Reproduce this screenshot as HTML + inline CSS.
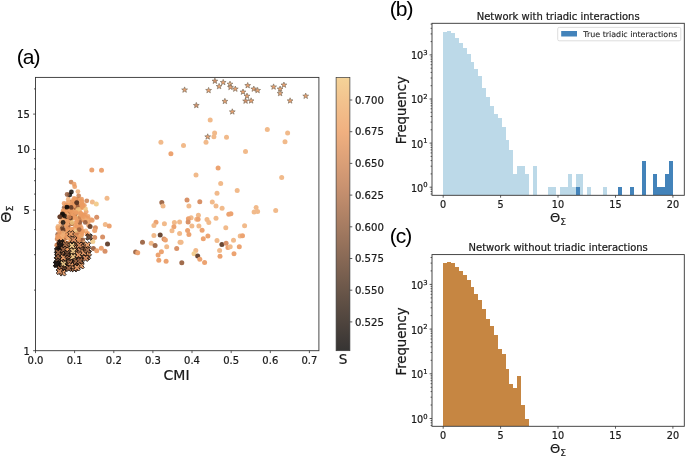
<!DOCTYPE html>
<html><head><meta charset="utf-8"><title>Figure</title>
<style>html,body{margin:0;padding:0;background:#fff}svg{display:block;will-change:transform}text{stroke:#1a1a1a;stroke-width:0.22px}</style></head>
<body>
<svg width="685" height="456" viewBox="0 0 685 456" font-family="'DejaVu Sans', 'Liberation Sans', sans-serif" fill="#1a1a1a">
<rect width="685" height="456" fill="#fff"/>
<g fill-opacity="0.85">
<circle cx="77.9" cy="237.1" r="2.4" fill="#eb9b62"/>
<circle cx="79.3" cy="199.3" r="2.4" fill="#f0ae76"/>
<circle cx="64.3" cy="214.5" r="2.4" fill="#eb9b62"/>
<circle cx="60.2" cy="237.0" r="2.4" fill="#efc27c"/>
<circle cx="74.5" cy="201.2" r="2.4" fill="#eb9b62"/>
<circle cx="71.7" cy="229.3" r="2.4" fill="#f0ae76"/>
<circle cx="76.7" cy="199.2" r="2.4" fill="#eb9b62"/>
<circle cx="78.7" cy="250.7" r="2.4" fill="#eb9b62"/>
<circle cx="82.1" cy="252.2" r="2.4" fill="#f0ae76"/>
<circle cx="73.9" cy="208.2" r="2.4" fill="#eb9b62"/>
<circle cx="74.0" cy="237.9" r="2.4" fill="#f0ae76"/>
<circle cx="81.9" cy="204.9" r="2.4" fill="#eb9b62"/>
<circle cx="64.4" cy="239.4" r="2.4" fill="#eb9b62"/>
<circle cx="81.7" cy="207.9" r="2.4" fill="#eb9b62"/>
<circle cx="62.1" cy="238.1" r="2.4" fill="#efc27c"/>
<circle cx="66.3" cy="252.4" r="2.4" fill="#efc27c"/>
<circle cx="88.5" cy="221.7" r="2.4" fill="#eb9b62"/>
<circle cx="85.8" cy="230.9" r="2.4" fill="#f0ae76"/>
<circle cx="65.5" cy="230.7" r="2.4" fill="#94593a"/>
<circle cx="64.7" cy="248.4" r="2.4" fill="#eb9b62"/>
<circle cx="74.9" cy="247.4" r="2.4" fill="#f0ae76"/>
<circle cx="67.3" cy="209.9" r="2.4" fill="#eb9b62"/>
<circle cx="66.6" cy="258.8" r="2.4" fill="#eb9b62"/>
<circle cx="75.0" cy="225.0" r="2.4" fill="#eb9b62"/>
<circle cx="81.6" cy="230.7" r="2.4" fill="#eb9b62"/>
<circle cx="80.4" cy="237.4" r="2.4" fill="#efc27c"/>
<circle cx="67.0" cy="212.0" r="2.4" fill="#eb9b62"/>
<circle cx="61.0" cy="239.2" r="2.4" fill="#eb9b62"/>
<circle cx="76.4" cy="210.2" r="2.4" fill="#eb9b62"/>
<circle cx="70.6" cy="205.9" r="2.4" fill="#eb9b62"/>
<circle cx="72.0" cy="201.8" r="2.4" fill="#c87c4c"/>
<circle cx="61.4" cy="233.6" r="2.4" fill="#94593a"/>
<circle cx="72.5" cy="217.9" r="2.4" fill="#eb9b62"/>
<circle cx="73.7" cy="210.7" r="2.4" fill="#eb9b62"/>
<circle cx="68.3" cy="202.1" r="2.4" fill="#eb9b62"/>
<circle cx="72.2" cy="218.1" r="2.4" fill="#eb9b62"/>
<circle cx="60.0" cy="238.0" r="2.4" fill="#eb9b62"/>
<circle cx="68.0" cy="248.0" r="2.4" fill="#c87c4c"/>
<circle cx="80.0" cy="200.6" r="2.4" fill="#f0ae76"/>
<circle cx="62.6" cy="214.4" r="2.4" fill="#140e0b"/>
<circle cx="71.9" cy="249.7" r="2.4" fill="#94593a"/>
<circle cx="67.7" cy="219.1" r="2.4" fill="#f0ae76"/>
<circle cx="74.4" cy="203.7" r="2.4" fill="#c87c4c"/>
<circle cx="65.8" cy="254.3" r="2.4" fill="#c87c4c"/>
<circle cx="80.2" cy="225.5" r="2.4" fill="#eb9b62"/>
<circle cx="86.4" cy="246.4" r="2.4" fill="#eb9b62"/>
<circle cx="60.9" cy="245.2" r="2.4" fill="#eb9b62"/>
<circle cx="81.9" cy="206.7" r="2.4" fill="#eb9b62"/>
<circle cx="71.3" cy="256.3" r="2.4" fill="#c87c4c"/>
<circle cx="65.5" cy="245.3" r="2.4" fill="#f0ae76"/>
<circle cx="78.6" cy="201.0" r="2.4" fill="#eb9b62"/>
<circle cx="79.2" cy="222.3" r="2.4" fill="#eb9b62"/>
<circle cx="61.8" cy="259.6" r="2.4" fill="#c87c4c"/>
<circle cx="77.7" cy="204.6" r="2.4" fill="#eb9b62"/>
<circle cx="57.5" cy="244.8" r="2.4" fill="#c87c4c"/>
<circle cx="81.3" cy="227.9" r="2.4" fill="#eb9b62"/>
<circle cx="77.3" cy="202.5" r="2.4" fill="#f0ae76"/>
<circle cx="62.7" cy="212.9" r="2.4" fill="#eb9b62"/>
<circle cx="67.3" cy="228.5" r="2.4" fill="#f0ae76"/>
<circle cx="70.1" cy="230.5" r="2.4" fill="#eb9b62"/>
<circle cx="71.5" cy="209.9" r="2.4" fill="#94593a"/>
<circle cx="78.9" cy="258.2" r="2.4" fill="#efc27c"/>
<circle cx="87.5" cy="218.2" r="2.4" fill="#eb9b62"/>
<circle cx="65.3" cy="245.4" r="2.4" fill="#eb9b62"/>
<circle cx="65.2" cy="243.9" r="2.4" fill="#eb9b62"/>
<circle cx="63.1" cy="235.4" r="2.4" fill="#eb9b62"/>
<circle cx="65.3" cy="248.0" r="2.4" fill="#eb9b62"/>
<circle cx="88.6" cy="225.4" r="2.4" fill="#eb9b62"/>
<circle cx="77.2" cy="211.8" r="2.4" fill="#efc27c"/>
<circle cx="72.8" cy="257.5" r="2.4" fill="#eb9b62"/>
<circle cx="82.3" cy="204.2" r="2.4" fill="#eb9b62"/>
<circle cx="66.3" cy="237.5" r="2.4" fill="#94593a"/>
<circle cx="72.6" cy="252.6" r="2.4" fill="#eb9b62"/>
<circle cx="68.5" cy="248.2" r="2.4" fill="#eb9b62"/>
<circle cx="71.9" cy="223.8" r="2.4" fill="#eb9b62"/>
<circle cx="74.8" cy="245.1" r="2.4" fill="#eb9b62"/>
<circle cx="60.4" cy="246.9" r="2.4" fill="#eb9b62"/>
<circle cx="62.2" cy="233.0" r="2.4" fill="#94593a"/>
<circle cx="72.3" cy="216.9" r="2.4" fill="#f0ae76"/>
<circle cx="66.9" cy="234.5" r="2.4" fill="#eb9b62"/>
<circle cx="67.4" cy="229.1" r="2.4" fill="#eb9b62"/>
<circle cx="62.1" cy="249.5" r="2.4" fill="#f0ae76"/>
<circle cx="67.0" cy="232.3" r="2.4" fill="#efc27c"/>
<circle cx="79.4" cy="243.7" r="2.4" fill="#94593a"/>
<circle cx="69.2" cy="238.2" r="2.4" fill="#eb9b62"/>
<circle cx="78.6" cy="237.5" r="2.4" fill="#583422"/>
<circle cx="73.9" cy="203.1" r="2.4" fill="#c87c4c"/>
<circle cx="77.4" cy="218.6" r="2.4" fill="#eb9b62"/>
<circle cx="67.5" cy="245.8" r="2.4" fill="#eb9b62"/>
<circle cx="64.2" cy="207.6" r="2.4" fill="#94593a"/>
<circle cx="64.3" cy="257.7" r="2.4" fill="#efc27c"/>
<circle cx="77.0" cy="226.9" r="2.4" fill="#eb9b62"/>
<circle cx="70.8" cy="223.8" r="2.4" fill="#eb9b62"/>
<circle cx="82.9" cy="239.8" r="2.4" fill="#94593a"/>
<circle cx="63.9" cy="257.2" r="2.4" fill="#eb9b62"/>
<circle cx="59.5" cy="254.8" r="2.4" fill="#eb9b62"/>
<circle cx="75.5" cy="257.1" r="2.4" fill="#eb9b62"/>
<circle cx="71.0" cy="241.3" r="2.4" fill="#c87c4c"/>
<circle cx="72.7" cy="207.1" r="2.4" fill="#f0ae76"/>
<circle cx="59.2" cy="253.8" r="2.4" fill="#eb9b62"/>
<circle cx="75.3" cy="214.0" r="2.4" fill="#583422"/>
<circle cx="69.0" cy="256.3" r="2.4" fill="#c87c4c"/>
<circle cx="65.5" cy="230.5" r="2.4" fill="#f0ae76"/>
<circle cx="73.7" cy="245.6" r="2.4" fill="#eb9b62"/>
<circle cx="66.3" cy="216.9" r="2.4" fill="#eb9b62"/>
<circle cx="63.2" cy="241.6" r="2.4" fill="#94593a"/>
<circle cx="81.6" cy="243.6" r="2.4" fill="#f0ae76"/>
<circle cx="69.8" cy="217.6" r="2.4" fill="#c87c4c"/>
<circle cx="68.2" cy="227.4" r="2.4" fill="#eb9b62"/>
<circle cx="66.0" cy="229.9" r="2.4" fill="#eb9b62"/>
<circle cx="72.3" cy="203.1" r="2.4" fill="#eb9b62"/>
<circle cx="70.0" cy="221.5" r="2.4" fill="#eb9b62"/>
<circle cx="62.6" cy="226.6" r="2.4" fill="#583422"/>
<circle cx="75.7" cy="204.0" r="2.4" fill="#f0ae76"/>
<circle cx="71.6" cy="233.8" r="2.4" fill="#94593a"/>
<circle cx="57.7" cy="234.5" r="2.4" fill="#94593a"/>
<circle cx="61.5" cy="243.8" r="2.4" fill="#eb9b62"/>
<circle cx="78.5" cy="233.1" r="2.4" fill="#94593a"/>
<circle cx="74.6" cy="209.6" r="2.4" fill="#94593a"/>
<circle cx="75.6" cy="227.6" r="2.4" fill="#eb9b62"/>
<circle cx="70.1" cy="244.5" r="2.4" fill="#eb9b62"/>
<circle cx="70.1" cy="206.1" r="2.4" fill="#eb9b62"/>
<circle cx="65.2" cy="208.9" r="2.4" fill="#94593a"/>
<circle cx="67.9" cy="216.4" r="2.4" fill="#f0ae76"/>
<circle cx="66.8" cy="234.8" r="2.4" fill="#583422"/>
<circle cx="72.5" cy="223.7" r="2.4" fill="#f0ae76"/>
<circle cx="64.9" cy="243.9" r="2.4" fill="#eb9b62"/>
<circle cx="77.4" cy="207.9" r="2.4" fill="#eb9b62"/>
<circle cx="82.1" cy="206.9" r="2.4" fill="#eb9b62"/>
<circle cx="81.5" cy="201.0" r="2.4" fill="#eb9b62"/>
<circle cx="87.6" cy="233.4" r="2.4" fill="#eb9b62"/>
<circle cx="66.2" cy="224.1" r="2.4" fill="#eb9b62"/>
<circle cx="59.9" cy="256.5" r="2.4" fill="#f0ae76"/>
<circle cx="56.7" cy="245.2" r="2.4" fill="#c87c4c"/>
<circle cx="72.1" cy="202.7" r="2.4" fill="#94593a"/>
<circle cx="70.4" cy="213.3" r="2.4" fill="#f0ae76"/>
<circle cx="60.8" cy="237.8" r="2.4" fill="#f0ae76"/>
<circle cx="68.2" cy="237.8" r="2.4" fill="#f0ae76"/>
<circle cx="65.5" cy="236.2" r="2.4" fill="#eb9b62"/>
<circle cx="78.5" cy="211.3" r="2.4" fill="#eb9b62"/>
<circle cx="64.5" cy="259.4" r="2.4" fill="#eb9b62"/>
<circle cx="82.2" cy="219.5" r="2.4" fill="#c87c4c"/>
<circle cx="66.9" cy="211.4" r="2.4" fill="#eb9b62"/>
<circle cx="71.1" cy="211.5" r="2.4" fill="#c87c4c"/>
<circle cx="69.8" cy="218.4" r="2.4" fill="#eb9b62"/>
<circle cx="80.5" cy="205.1" r="2.4" fill="#c87c4c"/>
<circle cx="62.1" cy="247.6" r="2.4" fill="#583422"/>
<circle cx="72.9" cy="234.6" r="2.4" fill="#efc27c"/>
<circle cx="58.3" cy="253.3" r="2.4" fill="#eb9b62"/>
<circle cx="68.0" cy="226.6" r="2.4" fill="#94593a"/>
<circle cx="65.1" cy="251.8" r="2.4" fill="#eb9b62"/>
<circle cx="72.5" cy="211.2" r="2.4" fill="#f0ae76"/>
<circle cx="74.5" cy="216.1" r="2.4" fill="#eb9b62"/>
<circle cx="74.2" cy="234.3" r="2.4" fill="#eb9b62"/>
<circle cx="74.0" cy="256.9" r="2.4" fill="#eb9b62"/>
<circle cx="86.2" cy="211.8" r="2.4" fill="#eb9b62"/>
<circle cx="61.4" cy="258.5" r="2.4" fill="#efc27c"/>
<circle cx="68.4" cy="214.4" r="2.4" fill="#f0ae76"/>
<circle cx="71.3" cy="239.1" r="2.4" fill="#eb9b62"/>
<circle cx="62.9" cy="251.4" r="2.4" fill="#f0ae76"/>
<circle cx="59.6" cy="235.8" r="2.4" fill="#f0ae76"/>
<circle cx="70.9" cy="220.4" r="2.4" fill="#eb9b62"/>
<circle cx="76.1" cy="257.7" r="2.4" fill="#eb9b62"/>
<circle cx="63.4" cy="211.4" r="2.4" fill="#eb9b62"/>
<circle cx="69.4" cy="216.7" r="2.4" fill="#94593a"/>
<circle cx="68.3" cy="215.1" r="2.4" fill="#eb9b62"/>
<circle cx="77.5" cy="211.5" r="2.4" fill="#eb9b62"/>
<circle cx="80.7" cy="214.0" r="2.4" fill="#eb9b62"/>
<circle cx="66.3" cy="252.5" r="2.4" fill="#efc27c"/>
<circle cx="65.9" cy="217.4" r="2.4" fill="#140e0b"/>
<circle cx="57.8" cy="227.8" r="2.4" fill="#eb9b62"/>
<circle cx="72.3" cy="233.3" r="2.4" fill="#eb9b62"/>
<circle cx="69.1" cy="222.8" r="2.4" fill="#eb9b62"/>
<circle cx="83.6" cy="214.7" r="2.4" fill="#eb9b62"/>
<circle cx="70.7" cy="209.7" r="2.4" fill="#eb9b62"/>
<circle cx="60.9" cy="227.4" r="2.4" fill="#f0ae76"/>
<circle cx="77.5" cy="256.1" r="2.4" fill="#c87c4c"/>
<circle cx="72.7" cy="229.3" r="2.4" fill="#f0ae76"/>
<circle cx="80.6" cy="235.7" r="2.4" fill="#efc27c"/>
<circle cx="87.1" cy="221.7" r="2.4" fill="#f0ae76"/>
<circle cx="64.3" cy="246.5" r="2.4" fill="#eb9b62"/>
<circle cx="78.6" cy="226.4" r="2.4" fill="#eb9b62"/>
<circle cx="57.9" cy="251.3" r="2.4" fill="#eb9b62"/>
<circle cx="78.1" cy="204.9" r="2.4" fill="#efc27c"/>
<circle cx="76.6" cy="242.6" r="2.4" fill="#eb9b62"/>
<circle cx="63.9" cy="255.8" r="2.4" fill="#eb9b62"/>
<circle cx="65.0" cy="230.2" r="2.4" fill="#eb9b62"/>
<circle cx="65.3" cy="252.7" r="2.4" fill="#eb9b62"/>
<circle cx="67.2" cy="234.8" r="2.4" fill="#eb9b62"/>
<circle cx="78.3" cy="242.1" r="2.4" fill="#f0ae76"/>
<circle cx="65.9" cy="206.8" r="2.4" fill="#eb9b62"/>
<circle cx="81.1" cy="204.3" r="2.4" fill="#f0ae76"/>
<circle cx="78.2" cy="206.8" r="2.4" fill="#eb9b62"/>
<circle cx="77.1" cy="254.8" r="2.4" fill="#eb9b62"/>
<circle cx="75.2" cy="204.3" r="2.4" fill="#eb9b62"/>
<circle cx="78.5" cy="218.5" r="2.4" fill="#eb9b62"/>
<circle cx="79.3" cy="216.9" r="2.4" fill="#efc27c"/>
<circle cx="60.8" cy="222.6" r="2.4" fill="#eb9b62"/>
<circle cx="67.2" cy="258.0" r="2.4" fill="#c87c4c"/>
<circle cx="63.2" cy="243.4" r="2.4" fill="#eb9b62"/>
<circle cx="67.1" cy="256.8" r="2.4" fill="#f0ae76"/>
<circle cx="78.2" cy="206.7" r="2.4" fill="#eb9b62"/>
<circle cx="60.3" cy="240.0" r="2.4" fill="#eb9b62"/>
<circle cx="57.1" cy="239.1" r="2.4" fill="#c87c4c"/>
<circle cx="82.7" cy="231.5" r="2.4" fill="#eb9b62"/>
<circle cx="69.7" cy="242.8" r="2.4" fill="#eb9b62"/>
<circle cx="67.4" cy="258.3" r="2.4" fill="#eb9b62"/>
<circle cx="77.4" cy="236.5" r="2.4" fill="#eb9b62"/>
<circle cx="66.5" cy="224.2" r="2.4" fill="#f0ae76"/>
<circle cx="83.2" cy="250.1" r="2.4" fill="#f0ae76"/>
<circle cx="81.9" cy="232.8" r="2.4" fill="#eb9b62"/>
<circle cx="60.5" cy="239.6" r="2.4" fill="#eb9b62"/>
<circle cx="67.6" cy="215.1" r="2.4" fill="#eb9b62"/>
<circle cx="61.5" cy="248.3" r="2.4" fill="#eb9b62"/>
<circle cx="87.0" cy="234.1" r="2.4" fill="#eb9b62"/>
<circle cx="60.0" cy="244.5" r="2.4" fill="#eb9b62"/>
<circle cx="64.8" cy="253.2" r="2.4" fill="#f0ae76"/>
<circle cx="63.0" cy="218.6" r="2.4" fill="#eb9b62"/>
<circle cx="70.8" cy="222.4" r="2.4" fill="#eb9b62"/>
<circle cx="73.3" cy="200.1" r="2.4" fill="#f0ae76"/>
<circle cx="81.7" cy="205.4" r="2.4" fill="#f0ae76"/>
<circle cx="72.2" cy="229.2" r="2.4" fill="#eb9b62"/>
<circle cx="66.0" cy="221.1" r="2.4" fill="#f0ae76"/>
<circle cx="61.2" cy="249.1" r="2.4" fill="#eb9b62"/>
<circle cx="57.7" cy="236.3" r="2.4" fill="#eb9b62"/>
<circle cx="73.7" cy="255.5" r="2.4" fill="#eb9b62"/>
<circle cx="58.3" cy="247.7" r="2.4" fill="#c87c4c"/>
<circle cx="71.8" cy="223.6" r="2.4" fill="#94593a"/>
<circle cx="84.2" cy="247.8" r="2.4" fill="#c87c4c"/>
<circle cx="57.8" cy="249.2" r="2.4" fill="#eb9b62"/>
<circle cx="90.9" cy="219.6" r="2.4" fill="#eb9b62"/>
<circle cx="58.0" cy="251.0" r="2.4" fill="#eb9b62"/>
<circle cx="81.5" cy="204.6" r="2.4" fill="#eb9b62"/>
<circle cx="63.3" cy="230.0" r="2.4" fill="#583422"/>
<circle cx="80.0" cy="217.6" r="2.4" fill="#c87c4c"/>
<circle cx="66.0" cy="257.9" r="2.4" fill="#c87c4c"/>
<circle cx="84.3" cy="205.3" r="2.4" fill="#eb9b62"/>
<circle cx="64.2" cy="243.0" r="2.4" fill="#eb9b62"/>
<circle cx="71.4" cy="219.6" r="2.4" fill="#efc27c"/>
<circle cx="79.8" cy="242.6" r="2.4" fill="#eb9b62"/>
<circle cx="81.2" cy="240.2" r="2.4" fill="#94593a"/>
<circle cx="66.1" cy="205.2" r="2.4" fill="#eb9b62"/>
<circle cx="78.4" cy="241.6" r="2.4" fill="#eb9b62"/>
<circle cx="64.9" cy="246.0" r="2.4" fill="#eb9b62"/>
<circle cx="63.0" cy="243.2" r="2.4" fill="#eb9b62"/>
<circle cx="66.3" cy="259.6" r="2.4" fill="#eb9b62"/>
<circle cx="62.6" cy="235.3" r="2.4" fill="#f0ae76"/>
<circle cx="77.7" cy="210.6" r="2.4" fill="#eb9b62"/>
<circle cx="69.8" cy="203.2" r="2.4" fill="#f0ae76"/>
<circle cx="58.8" cy="237.9" r="2.4" fill="#eb9b62"/>
<circle cx="58.7" cy="242.8" r="2.4" fill="#94593a"/>
<circle cx="69.9" cy="211.2" r="2.4" fill="#583422"/>
<circle cx="70.2" cy="205.3" r="2.4" fill="#eb9b62"/>
<circle cx="79.7" cy="212.5" r="2.4" fill="#eb9b62"/>
<circle cx="71.1" cy="217.2" r="2.4" fill="#eb9b62"/>
<circle cx="63.6" cy="250.4" r="2.4" fill="#eb9b62"/>
<circle cx="65.4" cy="249.7" r="2.4" fill="#eb9b62"/>
<circle cx="68.4" cy="256.4" r="2.4" fill="#f0ae76"/>
<circle cx="68.3" cy="199.2" r="2.4" fill="#f0ae76"/>
<circle cx="67.2" cy="243.2" r="2.4" fill="#eb9b62"/>
<circle cx="76.3" cy="233.1" r="2.4" fill="#c87c4c"/>
<circle cx="75.6" cy="212.2" r="2.4" fill="#f0ae76"/>
<circle cx="79.8" cy="222.4" r="2.4" fill="#94593a"/>
<circle cx="66.9" cy="247.5" r="2.4" fill="#eb9b62"/>
<circle cx="63.1" cy="248.5" r="2.4" fill="#583422"/>
<circle cx="61.9" cy="214.7" r="2.4" fill="#eb9b62"/>
<circle cx="76.0" cy="246.3" r="2.4" fill="#94593a"/>
<circle cx="83.3" cy="215.3" r="2.4" fill="#eb9b62"/>
<circle cx="79.5" cy="231.4" r="2.4" fill="#eb9b62"/>
<circle cx="71.0" cy="234.2" r="2.4" fill="#94593a"/>
<circle cx="85.1" cy="215.2" r="2.4" fill="#eb9b62"/>
<circle cx="79.6" cy="211.3" r="2.4" fill="#f0ae76"/>
<circle cx="77.8" cy="202.3" r="2.4" fill="#f0ae76"/>
<circle cx="70.4" cy="209.2" r="2.4" fill="#94593a"/>
<circle cx="76.2" cy="230.4" r="2.4" fill="#efc27c"/>
<circle cx="67.0" cy="215.4" r="2.4" fill="#f0ae76"/>
<circle cx="76.9" cy="238.6" r="2.4" fill="#c87c4c"/>
<circle cx="69.4" cy="252.8" r="2.4" fill="#c87c4c"/>
<circle cx="82.0" cy="234.8" r="2.4" fill="#eb9b62"/>
<circle cx="61.6" cy="228.7" r="2.4" fill="#583422"/>
<circle cx="79.9" cy="214.1" r="2.4" fill="#f0ae76"/>
<circle cx="64.4" cy="213.6" r="2.4" fill="#eb9b62"/>
<circle cx="66.0" cy="225.2" r="2.4" fill="#eb9b62"/>
<circle cx="71.1" cy="235.0" r="2.4" fill="#c87c4c"/>
<circle cx="74.6" cy="253.3" r="2.4" fill="#eb9b62"/>
<circle cx="58.3" cy="249.5" r="2.4" fill="#eb9b62"/>
<circle cx="75.4" cy="199.5" r="2.4" fill="#c87c4c"/>
<circle cx="68.7" cy="253.9" r="2.4" fill="#f0ae76"/>
<circle cx="67.7" cy="250.7" r="2.4" fill="#eb9b62"/>
<circle cx="84.2" cy="220.2" r="2.4" fill="#eb9b62"/>
<circle cx="83.3" cy="217.8" r="2.4" fill="#f0ae76"/>
<circle cx="63.2" cy="259.4" r="2.4" fill="#f0ae76"/>
<circle cx="83.0" cy="249.1" r="2.4" fill="#eb9b62"/>
<circle cx="62.8" cy="232.9" r="2.4" fill="#f0ae76"/>
<circle cx="70.0" cy="209.7" r="2.4" fill="#eb9b62"/>
<circle cx="72.8" cy="216.1" r="2.4" fill="#eb9b62"/>
<circle cx="62.6" cy="217.2" r="2.4" fill="#eb9b62"/>
<circle cx="78.7" cy="258.5" r="2.4" fill="#eb9b62"/>
<circle cx="83.2" cy="242.9" r="2.4" fill="#f0ae76"/>
<circle cx="71.8" cy="249.8" r="2.4" fill="#eb9b62"/>
<circle cx="61.5" cy="220.8" r="2.4" fill="#f0ae76"/>
<circle cx="64.3" cy="244.7" r="2.4" fill="#eb9b62"/>
<circle cx="81.2" cy="205.8" r="2.4" fill="#eb9b62"/>
<circle cx="79.7" cy="206.7" r="2.4" fill="#eb9b62"/>
<circle cx="72.8" cy="202.0" r="2.4" fill="#eb9b62"/>
<circle cx="63.2" cy="252.3" r="2.4" fill="#94593a"/>
<circle cx="87.3" cy="219.2" r="2.4" fill="#f0ae76"/>
<circle cx="67.5" cy="221.0" r="2.4" fill="#eb9b62"/>
<circle cx="64.0" cy="253.7" r="2.4" fill="#eb9b62"/>
<circle cx="58.2" cy="229.4" r="2.4" fill="#eb9b62"/>
<circle cx="74.9" cy="204.4" r="2.4" fill="#eb9b62"/>
<circle cx="75.9" cy="222.7" r="2.4" fill="#eb9b62"/>
<circle cx="76.2" cy="255.4" r="2.4" fill="#f0ae76"/>
<circle cx="78.1" cy="227.5" r="2.4" fill="#eb9b62"/>
<circle cx="81.9" cy="215.5" r="2.4" fill="#eb9b62"/>
<circle cx="62.1" cy="252.7" r="2.4" fill="#f0ae76"/>
<circle cx="73.7" cy="246.3" r="2.4" fill="#c87c4c"/>
<circle cx="59.5" cy="245.6" r="2.4" fill="#eb9b62"/>
<circle cx="68.7" cy="244.2" r="2.4" fill="#eb9b62"/>
<circle cx="79.2" cy="229.6" r="2.4" fill="#94593a"/>
<circle cx="68.3" cy="208.9" r="2.4" fill="#eb9b62"/>
<circle cx="68.9" cy="258.5" r="2.4" fill="#eb9b62"/>
<circle cx="88.0" cy="216.4" r="2.4" fill="#eb9b62"/>
<circle cx="70.7" cy="218.1" r="2.4" fill="#583422"/>
<circle cx="77.8" cy="256.7" r="2.4" fill="#eb9b62"/>
<circle cx="85.3" cy="222.4" r="2.4" fill="#94593a"/>
<circle cx="67.8" cy="229.0" r="2.4" fill="#eb9b62"/>
<circle cx="58.1" cy="237.2" r="2.4" fill="#eb9b62"/>
<circle cx="73.0" cy="247.6" r="2.4" fill="#eb9b62"/>
<circle cx="59.5" cy="232.4" r="2.4" fill="#eb9b62"/>
<circle cx="77.0" cy="220.7" r="2.4" fill="#eb9b62"/>
<circle cx="77.2" cy="206.5" r="2.4" fill="#94593a"/>
<circle cx="71.1" cy="211.7" r="2.4" fill="#eb9b62"/>
<circle cx="70.7" cy="233.1" r="2.4" fill="#eb9b62"/>
<circle cx="75.1" cy="199.2" r="2.4" fill="#eb9b62"/>
<circle cx="78.2" cy="240.1" r="2.4" fill="#c87c4c"/>
<circle cx="78.5" cy="238.4" r="2.4" fill="#eb9b62"/>
<circle cx="81.8" cy="243.8" r="2.4" fill="#583422"/>
<circle cx="58.1" cy="226.3" r="2.4" fill="#f0ae76"/>
<circle cx="72.1" cy="222.8" r="2.4" fill="#efc27c"/>
<circle cx="71.1" cy="182.1" r="2.4" fill="#c87c4c"/>
<circle cx="74.1" cy="184.1" r="2.4" fill="#eb9b62"/>
<circle cx="74.7" cy="186.7" r="2.4" fill="#eb9b62"/>
<circle cx="77.9" cy="191.6" r="2.4" fill="#f0ae76"/>
<circle cx="71.4" cy="192.0" r="2.4" fill="#140e0b"/>
<circle cx="69.7" cy="194.9" r="2.4" fill="#140e0b"/>
<circle cx="67.1" cy="194.5" r="2.4" fill="#94593a"/>
<circle cx="78.7" cy="195.8" r="2.4" fill="#c87c4c"/>
<circle cx="74.1" cy="198.4" r="2.4" fill="#eb9b62"/>
<circle cx="81.6" cy="199.1" r="2.4" fill="#eb9b62"/>
<circle cx="82.2" cy="202.1" r="2.4" fill="#eb9b62"/>
<circle cx="86.8" cy="200.8" r="2.4" fill="#c87c4c"/>
<circle cx="76.7" cy="202.8" r="2.4" fill="#583422"/>
<circle cx="64.1" cy="203.4" r="2.4" fill="#eb9b62"/>
<circle cx="66.4" cy="205.4" r="2.4" fill="#eb9b62"/>
<circle cx="73.7" cy="206.1" r="2.4" fill="#eb9b62"/>
<circle cx="67.1" cy="207.6" r="2.4" fill="#140e0b"/>
<circle cx="71.1" cy="207.4" r="2.4" fill="#583422"/>
<circle cx="78.3" cy="209.3" r="2.4" fill="#efc27c"/>
<circle cx="85.5" cy="208.9" r="2.4" fill="#efc27c"/>
<circle cx="82.9" cy="206.1" r="2.4" fill="#eb9b62"/>
<circle cx="63.2" cy="210.7" r="2.4" fill="#eb9b62"/>
<circle cx="67.8" cy="210.7" r="2.4" fill="#eb9b62"/>
<circle cx="72.4" cy="212.6" r="2.4" fill="#eb9b62"/>
<circle cx="76.3" cy="212.6" r="2.4" fill="#eb9b62"/>
<circle cx="80.9" cy="213.3" r="2.4" fill="#eb9b62"/>
<circle cx="62.5" cy="213.9" r="2.4" fill="#140e0b"/>
<circle cx="64.5" cy="215.9" r="2.4" fill="#140e0b"/>
<circle cx="59.9" cy="216.8" r="2.4" fill="#94593a"/>
<circle cx="69.1" cy="217.2" r="2.4" fill="#c87c4c"/>
<circle cx="75.0" cy="217.9" r="2.4" fill="#eb9b62"/>
<circle cx="83.6" cy="216.6" r="2.4" fill="#eb9b62"/>
<circle cx="66.9" cy="207.1" r="2.4" fill="#140e0b"/>
<circle cx="62.5" cy="214.7" r="2.4" fill="#140e0b"/>
<circle cx="59.8" cy="216.9" r="2.4" fill="#583422"/>
<circle cx="63.1" cy="222.4" r="2.4" fill="#140e0b"/>
<circle cx="76.8" cy="202.7" r="2.4" fill="#583422"/>
</g>
<g opacity="0.95">
<circle cx="210.2" cy="119.9" r="2.5" fill="#f1b785"/>
<circle cx="214.6" cy="132.9" r="2.5" fill="#f1b785"/>
<circle cx="213.9" cy="136.8" r="2.5" fill="#f1b785"/>
<circle cx="226.5" cy="137.3" r="2.5" fill="#f1b785"/>
<circle cx="206.0" cy="142.2" r="2.5" fill="#f1b785"/>
<circle cx="183.5" cy="145.5" r="2.5" fill="#f1b785"/>
<circle cx="170.9" cy="153.7" r="2.5" fill="#ec9f6a"/>
<circle cx="245.5" cy="151.5" r="2.5" fill="#f1b785"/>
<circle cx="267.3" cy="129.6" r="2.5" fill="#f1b785"/>
<circle cx="287.6" cy="133.1" r="2.5" fill="#f1b785"/>
<circle cx="285.0" cy="141.8" r="2.5" fill="#f1b785"/>
<circle cx="281.7" cy="177.4" r="2.5" fill="#f1b785"/>
<circle cx="256.1" cy="207.4" r="2.5" fill="#f1b785"/>
<circle cx="254.1" cy="211.9" r="2.5" fill="#f1b785"/>
<circle cx="257.6" cy="211.6" r="2.5" fill="#f1b785"/>
<circle cx="275.7" cy="210.4" r="2.5" fill="#f1b785"/>
<circle cx="244.6" cy="225.8" r="2.5" fill="#f1b785"/>
<circle cx="218.1" cy="168.1" r="2.5" fill="#ec9f6a"/>
<circle cx="196.0" cy="175.1" r="2.5" fill="#f1b785"/>
<circle cx="220.7" cy="183.5" r="2.5" fill="#f1b785"/>
<circle cx="237.2" cy="190.4" r="2.5" fill="#f1b785"/>
<circle cx="217.0" cy="193.3" r="2.5" fill="#f1b785"/>
<circle cx="187.0" cy="200.0" r="2.5" fill="#d68c60"/>
<circle cx="199.8" cy="201.8" r="2.5" fill="#d68c60"/>
<circle cx="188.9" cy="206.0" r="2.5" fill="#f1b785"/>
<circle cx="212.3" cy="201.9" r="2.5" fill="#f1b785"/>
<circle cx="216.0" cy="206.1" r="2.5" fill="#f1b785"/>
<circle cx="222.1" cy="208.2" r="2.5" fill="#f1b785"/>
<circle cx="228.8" cy="214.2" r="2.5" fill="#ec9f6a"/>
<circle cx="230.9" cy="213.7" r="2.5" fill="#ec9f6a"/>
<circle cx="198.4" cy="215.3" r="2.5" fill="#f1b785"/>
<circle cx="191.1" cy="217.7" r="2.5" fill="#f1b785"/>
<circle cx="188.4" cy="218.8" r="2.5" fill="#ec9f6a"/>
<circle cx="188.1" cy="221.9" r="2.5" fill="#d68c60"/>
<circle cx="196.7" cy="219.3" r="2.5" fill="#f1b785"/>
<circle cx="198.1" cy="219.3" r="2.5" fill="#ec9f6a"/>
<circle cx="207.0" cy="219.5" r="2.5" fill="#f1b785"/>
<circle cx="208.8" cy="222.5" r="2.5" fill="#f1b785"/>
<circle cx="216.0" cy="218.2" r="2.5" fill="#f1b785"/>
<circle cx="179.6" cy="222.1" r="2.5" fill="#f1b785"/>
<circle cx="174.4" cy="222.5" r="2.5" fill="#f1b785"/>
<circle cx="173.9" cy="226.8" r="2.5" fill="#ec9f6a"/>
<circle cx="191.9" cy="226.0" r="2.5" fill="#f1b785"/>
<circle cx="198.9" cy="226.0" r="2.5" fill="#f1b785"/>
<circle cx="225.8" cy="227.7" r="2.5" fill="#f1b785"/>
<circle cx="187.6" cy="230.6" r="2.5" fill="#ec9f6a"/>
<circle cx="202.1" cy="230.2" r="2.5" fill="#ec9f6a"/>
<circle cx="172.0" cy="230.8" r="2.5" fill="#f1b785"/>
<circle cx="179.6" cy="233.5" r="2.5" fill="#f1b785"/>
<circle cx="188.9" cy="234.6" r="2.5" fill="#ec9f6a"/>
<circle cx="207.9" cy="236.1" r="2.5" fill="#ec9f6a"/>
<circle cx="203.3" cy="238.8" r="2.5" fill="#ec9f6a"/>
<circle cx="180.0" cy="242.3" r="2.5" fill="#f1b785"/>
<circle cx="181.1" cy="242.3" r="2.5" fill="#f1b785"/>
<circle cx="176.7" cy="248.6" r="2.5" fill="#d68c60"/>
<circle cx="195.8" cy="250.4" r="2.5" fill="#f1b785"/>
<circle cx="194.0" cy="253.7" r="2.5" fill="#f2cc8c"/>
<circle cx="197.7" cy="256.0" r="2.5" fill="#623f2b"/>
<circle cx="199.8" cy="259.3" r="2.5" fill="#ec9f6a"/>
<circle cx="204.6" cy="262.6" r="2.5" fill="#ec9f6a"/>
<circle cx="181.8" cy="262.8" r="2.5" fill="#9c6544"/>
<circle cx="217.0" cy="240.5" r="2.5" fill="#f1b785"/>
<circle cx="221.9" cy="244.6" r="2.5" fill="#623f2b"/>
<circle cx="226.1" cy="243.2" r="2.5" fill="#d68c60"/>
<circle cx="227.9" cy="247.5" r="2.5" fill="#ec9f6a"/>
<circle cx="230.2" cy="246.7" r="2.5" fill="#f1b785"/>
<circle cx="233.5" cy="240.2" r="2.5" fill="#f1b785"/>
<circle cx="239.3" cy="246.7" r="2.5" fill="#ec9f6a"/>
<circle cx="240.2" cy="236.1" r="2.5" fill="#f1b785"/>
<circle cx="242.5" cy="235.8" r="2.5" fill="#ec9f6a"/>
<circle cx="219.6" cy="250.4" r="2.5" fill="#f1b785"/>
<circle cx="220.0" cy="256.3" r="2.5" fill="#ec9f6a"/>
<circle cx="234.0" cy="253.7" r="2.5" fill="#ec9f6a"/>
<circle cx="161.8" cy="202.6" r="2.5" fill="#9c6544"/>
<circle cx="163.0" cy="206.1" r="2.5" fill="#f1b785"/>
<circle cx="156.0" cy="222.3" r="2.5" fill="#ec9f6a"/>
<circle cx="153.9" cy="225.4" r="2.5" fill="#f1b785"/>
<circle cx="164.4" cy="223.7" r="2.5" fill="#f1b785"/>
<circle cx="153.9" cy="235.6" r="2.5" fill="#f1b785"/>
<circle cx="160.2" cy="235.1" r="2.5" fill="#623f2b"/>
<circle cx="164.0" cy="238.9" r="2.5" fill="#d68c60"/>
<circle cx="165.4" cy="240.0" r="2.5" fill="#ec9f6a"/>
<circle cx="142.5" cy="242.3" r="2.5" fill="#9c6544"/>
<circle cx="151.2" cy="243.3" r="2.5" fill="#f1b785"/>
<circle cx="155.1" cy="245.6" r="2.5" fill="#9c6544"/>
<circle cx="166.7" cy="246.8" r="2.5" fill="#f1b785"/>
<circle cx="135.6" cy="252.1" r="2.5" fill="#9c6544"/>
<circle cx="137.7" cy="252.8" r="2.5" fill="#ec9f6a"/>
<circle cx="161.4" cy="251.8" r="2.5" fill="#ec9f6a"/>
<circle cx="158.1" cy="255.1" r="2.5" fill="#ec9f6a"/>
<circle cx="158.8" cy="260.2" r="2.5" fill="#ec9f6a"/>
<circle cx="166.1" cy="261.2" r="2.5" fill="#ec9f6a"/>
<circle cx="160.9" cy="142.3" r="2.5" fill="#f1b785"/>
<circle cx="101.5" cy="170.2" r="2.5" fill="#ec9f6a"/>
<circle cx="107.0" cy="198.3" r="2.5" fill="#f1b785"/>
<circle cx="91.8" cy="169.9" r="2.5" fill="#ec9f6a"/>
<circle cx="90.1" cy="226.4" r="2.5" fill="#623f2b"/>
<circle cx="95.4" cy="227.8" r="2.5" fill="#d68c60"/>
<circle cx="94.7" cy="230.4" r="2.5" fill="#ec9f6a"/>
<circle cx="105.3" cy="224.5" r="2.5" fill="#f1b785"/>
<circle cx="109.2" cy="226.0" r="2.5" fill="#ec9f6a"/>
<circle cx="94.7" cy="237.4" r="2.5" fill="#d68c60"/>
<circle cx="102.6" cy="237.0" r="2.5" fill="#d68c60"/>
<circle cx="107.5" cy="243.9" r="2.5" fill="#623f2b"/>
<circle cx="92.8" cy="241.6" r="2.5" fill="#f2cc8c"/>
<circle cx="93.4" cy="248.6" r="2.5" fill="#9c6544"/>
<circle cx="101.3" cy="248.2" r="2.5" fill="#ec9f6a"/>
<circle cx="96.7" cy="250.8" r="2.5" fill="#ec9f6a"/>
<circle cx="105.0" cy="251.2" r="2.5" fill="#d68c60"/>
<circle cx="96.7" cy="217.3" r="2.5" fill="#d68c60"/>
<circle cx="92.1" cy="220.2" r="2.5" fill="#ec9f6a"/>
<circle cx="92.4" cy="202.1" r="2.5" fill="#f1b785"/>
<circle cx="96.3" cy="204.1" r="2.5" fill="#f2cc8c"/>
</g>
<g stroke="#0a0806" stroke-width="0.8" stroke-linejoin="miter" fill-opacity="0.92">
<path d="M70.8 266.7 L72.5 265.1 L74.1 266.7 L75.8 265.1 L77.4 266.7 L75.8 268.4 L77.4 270.0 L75.8 271.7 L74.1 270.0 L72.5 271.7 L70.8 270.0 L72.5 268.4Z" fill="#9c6544"/>
<path d="M75.6 261.4 L77.3 259.7 L78.9 261.4 L80.6 259.7 L82.2 261.4 L80.6 263.0 L82.2 264.7 L80.6 266.3 L78.9 264.7 L77.3 266.3 L75.6 264.7 L77.3 263.0Z" fill="#ec9f6a"/>
<path d="M73.2 248.7 L74.9 247.1 L76.5 248.7 L78.2 247.1 L79.8 248.7 L78.2 250.4 L79.8 252.0 L78.2 253.7 L76.5 252.0 L74.9 253.7 L73.2 252.0 L74.9 250.4Z" fill="#ec9f6a"/>
<path d="M68.9 243.5 L70.6 241.8 L72.2 243.5 L73.9 241.8 L75.5 243.5 L73.9 245.1 L75.5 246.8 L73.9 248.4 L72.2 246.8 L70.6 248.4 L68.9 246.8 L70.6 245.1Z" fill="#623f2b"/>
<path d="M70.0 264.9 L71.6 263.2 L73.3 264.9 L74.9 263.2 L76.6 264.9 L74.9 266.5 L76.6 268.2 L74.9 269.8 L73.3 268.2 L71.6 269.8 L70.0 268.2 L71.6 266.5Z" fill="#623f2b"/>
<path d="M71.6 262.0 L73.2 260.3 L74.9 262.0 L76.5 260.3 L78.2 262.0 L76.5 263.6 L78.2 265.3 L76.5 266.9 L74.9 265.3 L73.2 266.9 L71.6 265.3 L73.2 263.6Z" fill="#9c6544"/>
<path d="M74.8 255.6 L76.5 253.9 L78.1 255.6 L79.8 253.9 L81.4 255.6 L79.8 257.2 L81.4 258.9 L79.8 260.5 L78.1 258.9 L76.5 260.5 L74.8 258.9 L76.5 257.2Z" fill="#9c6544"/>
<path d="M84.1 255.0 L85.7 253.3 L87.4 255.0 L89.0 253.3 L90.7 255.0 L89.0 256.6 L90.7 258.3 L89.0 259.9 L87.4 258.3 L85.7 259.9 L84.1 258.3 L85.7 256.6Z" fill="#d68c60"/>
<path d="M54.8 254.9 L56.5 253.3 L58.1 254.9 L59.8 253.3 L61.4 254.9 L59.8 256.6 L61.4 258.2 L59.8 259.9 L58.1 258.2 L56.5 259.9 L54.8 258.2 L56.5 256.6Z" fill="#1c1613"/>
<path d="M69.0 265.0 L70.6 263.4 L72.3 265.0 L73.9 263.4 L75.6 265.0 L73.9 266.7 L75.6 268.3 L73.9 270.0 L72.3 268.3 L70.6 270.0 L69.0 268.3 L70.6 266.7Z" fill="#ec9f6a"/>
<path d="M70.8 257.1 L72.4 255.5 L74.1 257.1 L75.7 255.5 L77.4 257.1 L75.7 258.8 L77.4 260.4 L75.7 262.1 L74.1 260.4 L72.4 262.1 L70.8 260.4 L72.4 258.8Z" fill="#d68c60"/>
<path d="M61.8 261.7 L63.5 260.0 L65.1 261.7 L66.8 260.0 L68.4 261.7 L66.8 263.3 L68.4 265.0 L66.8 266.6 L65.1 265.0 L63.5 266.6 L61.8 265.0 L63.5 263.3Z" fill="#d68c60"/>
<path d="M74.1 254.0 L75.7 252.3 L77.4 254.0 L79.0 252.3 L80.7 254.0 L79.0 255.6 L80.7 257.3 L79.0 258.9 L77.4 257.3 L75.7 258.9 L74.1 257.3 L75.7 255.6Z" fill="#9c6544"/>
<path d="M57.6 241.1 L59.3 239.4 L60.9 241.1 L62.6 239.4 L64.2 241.1 L62.6 242.7 L64.2 244.4 L62.6 246.0 L60.9 244.4 L59.3 246.0 L57.6 244.4 L59.3 242.7Z" fill="#1c1613"/>
<path d="M68.2 265.2 L69.8 263.6 L71.5 265.2 L73.1 263.6 L74.8 265.2 L73.1 266.9 L74.8 268.5 L73.1 270.2 L71.5 268.5 L69.8 270.2 L68.2 268.5 L69.8 266.9Z" fill="#ec9f6a"/>
<path d="M56.0 253.2 L57.7 251.6 L59.3 253.2 L61.0 251.6 L62.6 253.2 L61.0 254.9 L62.6 256.5 L61.0 258.2 L59.3 256.5 L57.7 258.2 L56.0 256.5 L57.7 254.9Z" fill="#623f2b"/>
<path d="M63.7 265.4 L65.4 263.7 L67.0 265.4 L68.7 263.7 L70.3 265.4 L68.7 267.0 L70.3 268.7 L68.7 270.3 L67.0 268.7 L65.4 270.3 L63.7 268.7 L65.4 267.0Z" fill="#d68c60"/>
<path d="M57.6 251.2 L59.2 249.6 L60.9 251.2 L62.5 249.6 L64.2 251.2 L62.5 252.9 L64.2 254.5 L62.5 256.2 L60.9 254.5 L59.2 256.2 L57.6 254.5 L59.2 252.9Z" fill="#9c6544"/>
<path d="M63.8 254.4 L65.5 252.8 L67.1 254.4 L68.8 252.8 L70.4 254.4 L68.8 256.1 L70.4 257.7 L68.8 259.4 L67.1 257.7 L65.5 259.4 L63.8 257.7 L65.5 256.1Z" fill="#9c6544"/>
<path d="M61.8 260.5 L63.4 258.9 L65.1 260.5 L66.7 258.9 L68.4 260.5 L66.7 262.2 L68.4 263.8 L66.7 265.5 L65.1 263.8 L63.4 265.5 L61.8 263.8 L63.4 262.2Z" fill="#d68c60"/>
<path d="M77.5 247.9 L79.2 246.2 L80.8 247.9 L82.5 246.2 L84.1 247.9 L82.5 249.5 L84.1 251.2 L82.5 252.8 L80.8 251.2 L79.2 252.8 L77.5 251.2 L79.2 249.5Z" fill="#d68c60"/>
<path d="M82.6 254.2 L84.3 252.6 L85.9 254.2 L87.6 252.6 L89.2 254.2 L87.6 255.9 L89.2 257.5 L87.6 259.2 L85.9 257.5 L84.3 259.2 L82.6 257.5 L84.3 255.9Z" fill="#ec9f6a"/>
<path d="M62.0 261.7 L63.7 260.1 L65.3 261.7 L67.0 260.1 L68.6 261.7 L67.0 263.4 L68.6 265.0 L67.0 266.7 L65.3 265.0 L63.7 266.7 L62.0 265.0 L63.7 263.4Z" fill="#ec9f6a"/>
<path d="M84.9 251.5 L86.6 249.9 L88.2 251.5 L89.9 249.9 L91.5 251.5 L89.9 253.2 L91.5 254.8 L89.9 256.5 L88.2 254.8 L86.6 256.5 L84.9 254.8 L86.6 253.2Z" fill="#ec9f6a"/>
<path d="M77.1 259.5 L78.8 257.8 L80.4 259.5 L82.1 257.8 L83.7 259.5 L82.1 261.1 L83.7 262.8 L82.1 264.4 L80.4 262.8 L78.8 264.4 L77.1 262.8 L78.8 261.1Z" fill="#d68c60"/>
<path d="M56.1 261.6 L57.8 260.0 L59.4 261.6 L61.1 260.0 L62.7 261.6 L61.1 263.3 L62.7 264.9 L61.1 266.6 L59.4 264.9 L57.8 266.6 L56.1 264.9 L57.8 263.3Z" fill="#d68c60"/>
<path d="M56.5 263.6 L58.1 261.9 L59.8 263.6 L61.4 261.9 L63.1 263.6 L61.4 265.2 L63.1 266.9 L61.4 268.5 L59.8 266.9 L58.1 268.5 L56.5 266.9 L58.1 265.2Z" fill="#1c1613"/>
<path d="M76.7 257.0 L78.3 255.4 L80.0 257.0 L81.6 255.4 L83.3 257.0 L81.6 258.7 L83.3 260.3 L81.6 262.0 L80.0 260.3 L78.3 262.0 L76.7 260.3 L78.3 258.7Z" fill="#9c6544"/>
<path d="M59.2 268.2 L60.9 266.6 L62.5 268.2 L64.2 266.6 L65.8 268.2 L64.2 269.9 L65.8 271.5 L64.2 273.2 L62.5 271.5 L60.9 273.2 L59.2 271.5 L60.9 269.9Z" fill="#f2cc8c"/>
<path d="M65.9 262.2 L67.5 260.5 L69.2 262.2 L70.8 260.5 L72.5 262.2 L70.8 263.8 L72.5 265.5 L70.8 267.1 L69.2 265.5 L67.5 267.1 L65.9 265.5 L67.5 263.8Z" fill="#d68c60"/>
<path d="M56.9 243.1 L58.5 241.5 L60.2 243.1 L61.8 241.5 L63.5 243.1 L61.8 244.8 L63.5 246.4 L61.8 248.1 L60.2 246.4 L58.5 248.1 L56.9 246.4 L58.5 244.8Z" fill="#9c6544"/>
<path d="M76.4 262.8 L78.1 261.1 L79.7 262.8 L81.4 261.1 L83.0 262.8 L81.4 264.4 L83.0 266.1 L81.4 267.7 L79.7 266.1 L78.1 267.7 L76.4 266.1 L78.1 264.4Z" fill="#d68c60"/>
<path d="M58.8 267.5 L60.4 265.9 L62.1 267.5 L63.7 265.9 L65.4 267.5 L63.7 269.2 L65.4 270.8 L63.7 272.5 L62.1 270.8 L60.4 272.5 L58.8 270.8 L60.4 269.2Z" fill="#d68c60"/>
<path d="M56.6 267.0 L58.2 265.3 L59.9 267.0 L61.5 265.3 L63.2 267.0 L61.5 268.6 L63.2 270.3 L61.5 271.9 L59.9 270.3 L58.2 271.9 L56.6 270.3 L58.2 268.6Z" fill="#d68c60"/>
<path d="M72.6 260.8 L74.2 259.1 L75.9 260.8 L77.5 259.1 L79.2 260.8 L77.5 262.4 L79.2 264.1 L77.5 265.7 L75.9 264.1 L74.2 265.7 L72.6 264.1 L74.2 262.4Z" fill="#ec9f6a"/>
<path d="M68.9 255.9 L70.6 254.3 L72.2 255.9 L73.9 254.3 L75.5 255.9 L73.9 257.6 L75.5 259.2 L73.9 260.9 L72.2 259.2 L70.6 260.9 L68.9 259.2 L70.6 257.6Z" fill="#d68c60"/>
<path d="M71.5 265.4 L73.2 263.8 L74.8 265.4 L76.5 263.8 L78.1 265.4 L76.5 267.1 L78.1 268.7 L76.5 270.4 L74.8 268.7 L73.2 270.4 L71.5 268.7 L73.2 267.1Z" fill="#9c6544"/>
<path d="M60.0 262.7 L61.6 261.1 L63.3 262.7 L64.9 261.1 L66.6 262.7 L64.9 264.4 L66.6 266.0 L64.9 267.7 L63.3 266.0 L61.6 267.7 L60.0 266.0 L61.6 264.4Z" fill="#1c1613"/>
<path d="M71.7 246.1 L73.4 244.4 L75.0 246.1 L76.7 244.4 L78.3 246.1 L76.7 247.7 L78.3 249.4 L76.7 251.0 L75.0 249.4 L73.4 251.0 L71.7 249.4 L73.4 247.7Z" fill="#9c6544"/>
<path d="M56.2 247.4 L57.8 245.7 L59.5 247.4 L61.1 245.7 L62.8 247.4 L61.1 249.0 L62.8 250.7 L61.1 252.3 L59.5 250.7 L57.8 252.3 L56.2 250.7 L57.8 249.0Z" fill="#623f2b"/>
<path d="M53.4 262.8 L55.0 261.1 L56.7 262.8 L58.3 261.1 L60.0 262.8 L58.3 264.4 L60.0 266.1 L58.3 267.7 L56.7 266.1 L55.0 267.7 L53.4 266.1 L55.0 264.4Z" fill="#623f2b"/>
<path d="M54.2 257.8 L55.9 256.2 L57.5 257.8 L59.2 256.2 L60.8 257.8 L59.2 259.5 L60.8 261.1 L59.2 262.8 L57.5 261.1 L55.9 262.8 L54.2 261.1 L55.9 259.5Z" fill="#623f2b"/>
<path d="M71.0 266.6 L72.7 265.0 L74.3 266.6 L76.0 265.0 L77.6 266.6 L76.0 268.3 L77.6 269.9 L76.0 271.6 L74.3 269.9 L72.7 271.6 L71.0 269.9 L72.7 268.3Z" fill="#ec9f6a"/>
<path d="M77.8 245.3 L79.4 243.6 L81.1 245.3 L82.7 243.6 L84.4 245.3 L82.7 246.9 L84.4 248.6 L82.7 250.2 L81.1 248.6 L79.4 250.2 L77.8 248.6 L79.4 246.9Z" fill="#d68c60"/>
<path d="M68.8 245.3 L70.5 243.6 L72.1 245.3 L73.8 243.6 L75.4 245.3 L73.8 246.9 L75.4 248.6 L73.8 250.2 L72.1 248.6 L70.5 250.2 L68.8 248.6 L70.5 246.9Z" fill="#f2cc8c"/>
<path d="M61.1 265.8 L62.8 264.1 L64.4 265.8 L66.1 264.1 L67.7 265.8 L66.1 267.4 L67.7 269.1 L66.1 270.7 L64.4 269.1 L62.8 270.7 L61.1 269.1 L62.8 267.4Z" fill="#623f2b"/>
<path d="M71.2 266.5 L72.9 264.8 L74.5 266.5 L76.2 264.8 L77.8 266.5 L76.2 268.1 L77.8 269.8 L76.2 271.4 L74.5 269.8 L72.9 271.4 L71.2 269.8 L72.9 268.1Z" fill="#d68c60"/>
<path d="M70.7 246.9 L72.4 245.2 L74.0 246.9 L75.7 245.2 L77.3 246.9 L75.7 248.5 L77.3 250.2 L75.7 251.8 L74.0 250.2 L72.4 251.8 L70.7 250.2 L72.4 248.5Z" fill="#ec9f6a"/>
<path d="M64.1 254.3 L65.7 252.7 L67.4 254.3 L69.0 252.7 L70.7 254.3 L69.0 256.0 L70.7 257.6 L69.0 259.3 L67.4 257.6 L65.7 259.3 L64.1 257.6 L65.7 256.0Z" fill="#9c6544"/>
<path d="M54.3 249.0 L56.0 247.3 L57.6 249.0 L59.3 247.3 L60.9 249.0 L59.3 250.6 L60.9 252.3 L59.3 253.9 L57.6 252.3 L56.0 253.9 L54.3 252.3 L56.0 250.6Z" fill="#1c1613"/>
<path d="M67.6 232.3 L69.2 230.7 L70.9 232.3 L72.6 230.7 L74.2 232.3 L72.6 234.0 L74.2 235.7 L72.6 237.3 L70.9 235.7 L69.2 237.3 L67.6 235.7 L69.2 234.0Z" fill="#ec9f6a"/>
<path d="M85.8 235.3 L87.4 233.7 L89.1 235.3 L90.8 233.7 L92.4 235.3 L90.8 237.0 L92.4 238.7 L90.8 240.3 L89.1 238.7 L87.4 240.3 L85.8 238.7 L87.4 237.0Z" fill="#623f2b"/>
<path d="M70.4 237.9 L72.0 236.3 L73.7 237.9 L75.4 236.3 L77.0 237.9 L75.4 239.6 L77.0 241.2 L75.4 242.9 L73.7 241.2 L72.0 242.9 L70.4 241.2 L72.0 239.6Z" fill="#d68c60"/>
<path d="M68.7 244.0 L70.3 242.4 L72.0 244.0 L73.7 242.4 L75.3 244.0 L73.7 245.7 L75.3 247.3 L73.7 249.0 L72.0 247.3 L70.3 249.0 L68.7 247.3 L70.3 245.7Z" fill="#f2cc8c"/>
<path d="M76.1 243.7 L77.8 242.0 L79.4 243.7 L81.1 242.0 L82.7 243.7 L81.1 245.3 L82.7 247.0 L81.1 248.6 L79.4 247.0 L77.8 248.6 L76.1 247.0 L77.8 245.3Z" fill="#d68c60"/>
<path d="M84.0 243.3 L85.6 241.7 L87.3 243.3 L89.0 241.7 L90.6 243.3 L89.0 245.0 L90.6 246.7 L89.0 248.3 L87.3 246.7 L85.6 248.3 L84.0 246.7 L85.6 245.0Z" fill="#ec9f6a"/>
<path d="M57.4 244.0 L59.1 242.4 L60.7 244.0 L62.4 242.4 L64.0 244.0 L62.4 245.7 L64.0 247.3 L62.4 249.0 L60.7 247.3 L59.1 249.0 L57.4 247.3 L59.1 245.7Z" fill="#1c1613"/>
<path d="M62.0 243.0 L63.6 241.4 L65.3 243.0 L67.0 241.4 L68.6 243.0 L67.0 244.7 L68.6 246.3 L67.0 248.0 L65.3 246.3 L63.6 248.0 L62.0 246.3 L63.6 244.7Z" fill="#9c6544"/>
<path d="M59.9 247.8 L61.6 246.2 L63.2 247.8 L64.9 246.2 L66.5 247.8 L64.9 249.5 L66.5 251.2 L64.9 252.8 L63.2 251.2 L61.6 252.8 L59.9 251.2 L61.6 249.5Z" fill="#9c6544"/>
<path d="M69.8 249.5 L71.4 247.9 L73.1 249.5 L74.8 247.9 L76.4 249.5 L74.8 251.2 L76.4 252.8 L74.8 254.5 L73.1 252.8 L71.4 254.5 L69.8 252.8 L71.4 251.2Z" fill="#f2cc8c"/>
<path d="M77.0 249.2 L78.6 247.5 L80.3 249.2 L82.0 247.5 L83.6 249.2 L82.0 250.8 L83.6 252.5 L82.0 254.1 L80.3 252.5 L78.6 254.1 L77.0 252.5 L78.6 250.8Z" fill="#d68c60"/>
<path d="M80.4 250.9 L82.0 249.3 L83.7 250.9 L85.4 249.3 L87.0 250.9 L85.4 252.6 L87.0 254.2 L85.4 255.9 L83.7 254.2 L82.0 255.9 L80.4 254.2 L82.0 252.6Z" fill="#ec9f6a"/>
<path d="M84.0 248.3 L85.6 246.7 L87.3 248.3 L89.0 246.7 L90.6 248.3 L89.0 250.0 L90.6 251.7 L89.0 253.3 L87.3 251.7 L85.6 253.3 L84.0 251.7 L85.6 250.0Z" fill="#9c6544"/>
<path d="M75.1 253.2 L76.8 251.5 L78.4 253.2 L80.1 251.5 L81.7 253.2 L80.1 254.8 L81.7 256.4 L80.1 258.1 L78.4 256.4 L76.8 258.1 L75.1 256.4 L76.8 254.8Z" fill="#ec9f6a"/>
<path d="M69.8 255.2 L71.4 253.5 L73.1 255.2 L74.8 253.5 L76.4 255.2 L74.8 256.8 L76.4 258.4 L74.8 260.1 L73.1 258.4 L71.4 260.1 L69.8 258.4 L71.4 256.8Z" fill="#f2cc8c"/>
<path d="M60.0 255.8 L61.6 254.2 L63.3 255.8 L65.0 254.2 L66.6 255.8 L65.0 257.5 L66.6 259.1 L65.0 260.8 L63.3 259.1 L61.6 260.8 L60.0 259.1 L61.6 257.5Z" fill="#ec9f6a"/>
<path d="M54.7 254.5 L56.4 252.8 L58.0 254.5 L59.6 252.8 L61.3 254.5 L59.6 256.1 L61.3 257.8 L59.6 259.4 L58.0 257.8 L56.4 259.4 L54.7 257.8 L56.4 256.1Z" fill="#9c6544"/>
<path d="M63.8 251.8 L65.4 250.1 L67.1 251.8 L68.8 250.1 L70.4 251.8 L68.8 253.4 L70.4 255.1 L68.8 256.7 L67.1 255.1 L65.4 256.7 L63.8 255.1 L65.4 253.4Z" fill="#623f2b"/>
<path d="M82.3 256.6 L83.9 254.9 L85.6 256.6 L87.2 254.9 L88.9 256.6 L87.2 258.2 L88.9 259.8 L87.2 261.5 L85.6 259.8 L83.9 261.5 L82.3 259.8 L83.9 258.2Z" fill="#d68c60"/>
<path d="M60.0 262.2 L61.6 260.6 L63.3 262.2 L65.0 260.6 L66.6 262.2 L65.0 263.9 L66.6 265.5 L65.0 267.2 L63.3 265.5 L61.6 267.2 L60.0 265.5 L61.6 263.9Z" fill="#f2cc8c"/>
<path d="M53.4 262.2 L55.1 260.6 L56.7 262.2 L58.4 260.6 L60.0 262.2 L58.4 263.9 L60.0 265.5 L58.4 267.2 L56.7 265.5 L55.1 267.2 L53.4 265.5 L55.1 263.9Z" fill="#1c1613"/>
<path d="M66.4 261.0 L68.0 259.3 L69.7 261.0 L71.4 259.3 L73.0 261.0 L71.4 262.6 L73.0 264.2 L71.4 265.9 L69.7 264.2 L68.0 265.9 L66.4 264.2 L68.0 262.6Z" fill="#9c6544"/>
<path d="M73.0 259.7 L74.6 258.0 L76.3 259.7 L78.0 258.0 L79.6 259.7 L78.0 261.3 L79.6 262.9 L78.0 264.6 L76.3 262.9 L74.6 264.6 L73.0 262.9 L74.6 261.3Z" fill="#9c6544"/>
<path d="M77.7 264.1 L79.3 262.4 L81.0 264.1 L82.7 262.4 L84.3 264.1 L82.7 265.7 L84.3 267.3 L82.7 269.0 L81.0 267.3 L79.3 269.0 L77.7 267.3 L79.3 265.7Z" fill="#ec9f6a"/>
<path d="M67.6 264.2 L69.2 262.5 L70.9 264.2 L72.6 262.5 L74.2 264.2 L72.6 265.8 L74.2 267.4 L72.6 269.1 L70.9 267.4 L69.2 269.1 L67.6 267.4 L69.2 265.8Z" fill="#ec9f6a"/>
<path d="M73.7 266.1 L75.3 264.4 L77.0 266.1 L78.7 264.4 L80.3 266.1 L78.7 267.7 L80.3 269.3 L78.7 271.0 L77.0 269.3 L75.3 271.0 L73.7 269.3 L75.3 267.7Z" fill="#ec9f6a"/>
<path d="M65.4 266.6 L67.0 264.9 L68.7 266.6 L70.4 264.9 L72.0 266.6 L70.4 268.2 L72.0 269.8 L70.4 271.5 L68.7 269.8 L67.0 271.5 L65.4 269.8 L67.0 268.2Z" fill="#9c6544"/>
<path d="M56.8 267.2 L58.5 265.5 L60.1 267.2 L61.8 265.5 L63.4 267.2 L61.8 268.8 L63.4 270.4 L61.8 272.1 L60.1 270.4 L58.5 272.1 L56.8 270.4 L58.5 268.8Z" fill="#9c6544"/>
<path d="M59.5 271.2 L61.1 269.5 L62.8 271.2 L64.5 269.5 L66.1 271.2 L64.5 272.8 L66.1 274.4 L64.5 276.1 L62.8 274.4 L61.1 276.1 L59.5 274.4 L61.1 272.8Z" fill="#ec9f6a"/>
<path d="M56.2 269.8 L57.9 268.1 L59.5 269.8 L61.1 268.1 L62.8 269.8 L61.1 271.4 L62.8 273.0 L61.1 274.7 L59.5 273.0 L57.9 274.7 L56.2 273.0 L57.9 271.4Z" fill="#d68c60"/>
<path d="M54.9 250.8 L56.6 249.1 L58.2 250.8 L59.9 249.1 L61.5 250.8 L59.9 252.4 L61.5 254.1 L59.9 255.7 L58.2 254.1 L56.6 255.7 L54.9 254.1 L56.6 252.4Z" fill="#9c6544"/>
<path d="M76.6 259.2 L78.2 257.6 L79.9 259.2 L81.6 257.6 L83.2 259.2 L81.6 260.9 L83.2 262.5 L81.6 264.2 L79.9 262.5 L78.2 264.2 L76.6 262.5 L78.2 260.9Z" fill="#9c6544"/>
</g>
<g stroke="#7a6a58" stroke-width="0.7" stroke-linejoin="miter" opacity="0.95">
<path d="M184.6 86.9 L185.3 88.9 L187.5 89.0 L185.8 90.3 L186.4 92.3 L184.6 91.2 L182.8 92.3 L183.4 90.3 L181.7 89.0 L183.9 88.9Z" fill="#ec9f6a"/>
<path d="M196.3 102.4 L197.0 104.4 L199.2 104.5 L197.5 105.8 L198.1 107.8 L196.3 106.7 L194.5 107.8 L195.1 105.8 L193.4 104.5 L195.6 104.4Z" fill="#d68c60"/>
<path d="M208.6 87.4 L209.3 89.4 L211.5 89.5 L209.8 90.8 L210.4 92.8 L208.6 91.7 L206.8 92.8 L207.4 90.8 L205.7 89.5 L207.9 89.4Z" fill="#ec9f6a"/>
<path d="M214.9 78.1 L215.6 80.1 L217.8 80.2 L216.1 81.5 L216.7 83.5 L214.9 82.3 L213.1 83.5 L213.7 81.5 L212.0 80.2 L214.2 80.1Z" fill="#d68c60"/>
<path d="M219.1 83.4 L219.8 85.4 L222.0 85.5 L220.3 86.8 L220.9 88.8 L219.1 87.7 L217.3 88.8 L217.9 86.8 L216.2 85.5 L218.4 85.4Z" fill="#ec9f6a"/>
<path d="M223.2 79.4 L223.9 81.4 L226.1 81.5 L224.4 82.8 L225.0 84.8 L223.2 83.7 L221.4 84.8 L222.0 82.8 L220.3 81.5 L222.5 81.4Z" fill="#ec9f6a"/>
<path d="M230.0 81.1 L230.7 83.1 L232.9 83.2 L231.2 84.5 L231.8 86.5 L230.0 85.3 L228.2 86.5 L228.8 84.5 L227.1 83.2 L229.3 83.1Z" fill="#f1b785"/>
<path d="M230.5 84.3 L231.2 86.3 L233.4 86.4 L231.7 87.7 L232.3 89.7 L230.5 88.5 L228.7 89.7 L229.3 87.7 L227.6 86.4 L229.8 86.3Z" fill="#ec9f6a"/>
<path d="M235.3 86.0 L236.0 88.0 L238.2 88.1 L236.5 89.4 L237.1 91.4 L235.3 90.2 L233.5 91.4 L234.1 89.4 L232.4 88.1 L234.6 88.0Z" fill="#ec9f6a"/>
<path d="M224.9 98.3 L225.6 100.3 L227.8 100.4 L226.1 101.7 L226.7 103.7 L224.9 102.5 L223.1 103.7 L223.7 101.7 L222.0 100.4 L224.2 100.3Z" fill="#ec9f6a"/>
<path d="M232.3 108.8 L233.0 110.8 L235.2 110.9 L233.5 112.2 L234.1 114.2 L232.3 113.0 L230.5 114.2 L231.1 112.2 L229.4 110.9 L231.6 110.8Z" fill="#ec9f6a"/>
<path d="M243.0 89.0 L243.7 91.0 L245.9 91.1 L244.2 92.4 L244.8 94.4 L243.0 93.2 L241.2 94.4 L241.8 92.4 L240.1 91.1 L242.3 91.0Z" fill="#ec9f6a"/>
<path d="M247.7 82.5 L248.4 84.5 L250.6 84.6 L248.9 85.9 L249.5 87.9 L247.7 86.8 L245.9 87.9 L246.5 85.9 L244.8 84.6 L247.0 84.5Z" fill="#ec9f6a"/>
<path d="M247.0 93.1 L247.7 95.1 L249.9 95.2 L248.2 96.5 L248.8 98.5 L247.0 97.3 L245.2 98.5 L245.8 96.5 L244.1 95.2 L246.3 95.1Z" fill="#ec9f6a"/>
<path d="M245.6 98.0 L246.3 100.0 L248.5 100.1 L246.8 101.4 L247.4 103.4 L245.6 102.2 L243.8 103.4 L244.4 101.4 L242.7 100.1 L244.9 100.0Z" fill="#d68c60"/>
<path d="M251.1 97.8 L251.8 99.8 L254.0 99.9 L252.3 101.2 L252.9 103.2 L251.1 102.0 L249.3 103.2 L249.9 101.2 L248.2 99.9 L250.4 99.8Z" fill="#ec9f6a"/>
<path d="M207.7 133.8 L208.4 135.8 L210.6 135.9 L208.9 137.2 L209.5 139.2 L207.7 138.1 L205.9 139.2 L206.5 137.2 L204.8 135.9 L207.0 135.8Z" fill="#ec9f6a"/>
<path d="M253.8 86.0 L254.5 88.0 L256.7 88.1 L255.0 89.4 L255.6 91.4 L253.8 90.2 L252.0 91.4 L252.6 89.4 L250.9 88.1 L253.1 88.0Z" fill="#ec9f6a"/>
<path d="M257.6 87.4 L258.3 89.4 L260.5 89.5 L258.8 90.8 L259.4 92.8 L257.6 91.7 L255.8 92.8 L256.4 90.8 L254.7 89.5 L256.9 89.4Z" fill="#ec9f6a"/>
<path d="M273.6 83.9 L274.3 85.9 L276.5 86.0 L274.8 87.3 L275.4 89.3 L273.6 88.2 L271.8 89.3 L272.4 87.3 L270.7 86.0 L272.9 85.9Z" fill="#ec9f6a"/>
<path d="M280.1 86.0 L280.8 88.0 L283.0 88.1 L281.3 89.4 L281.9 91.4 L280.1 90.2 L278.3 91.4 L278.9 89.4 L277.2 88.1 L279.4 88.0Z" fill="#ec9f6a"/>
<path d="M283.9 82.0 L284.6 84.0 L286.8 84.1 L285.1 85.4 L285.7 87.4 L283.9 86.2 L282.1 87.4 L282.7 85.4 L281.0 84.1 L283.2 84.0Z" fill="#ec9f6a"/>
<path d="M280.1 90.4 L280.8 92.4 L283.0 92.5 L281.3 93.8 L281.9 95.8 L280.1 94.7 L278.3 95.8 L278.9 93.8 L277.2 92.5 L279.4 92.4Z" fill="#ec9f6a"/>
<path d="M290.1 97.8 L290.8 99.8 L293.0 99.9 L291.3 101.2 L291.9 103.2 L290.1 102.0 L288.3 103.2 L288.9 101.2 L287.2 99.9 L289.4 99.8Z" fill="#ec9f6a"/>
<path d="M305.7 93.1 L306.4 95.1 L308.6 95.2 L306.9 96.5 L307.5 98.5 L305.7 97.3 L303.9 98.5 L304.5 96.5 L302.8 95.2 L305.0 95.1Z" fill="#ec9f6a"/>
</g>
<rect x="35.5" y="77.4" width="283.4" height="273.3" fill="none" stroke="#333333" stroke-width="0.9"/>
<path d="M35.5 350.7 v2.4 M74.6 350.7 v2.4 M113.8 350.7 v2.4 M152.9 350.7 v2.4 M192.0 350.7 v2.4 M231.2 350.7 v2.4 M270.3 350.7 v2.4 M309.4 350.7 v2.4 M35.5 350.7 h-2.4 M35.5 210.1 h-2.4 M35.5 149.5 h-2.4 M35.5 114.1 h-2.4 M35.5 290.1 h-1.5 M35.5 254.7 h-1.5 M35.5 229.6 h-1.5 M35.5 194.1 h-1.5 M35.5 180.7 h-1.5 M35.5 169.0 h-1.5 M35.5 158.7 h-1.5 M35.5 88.9 h-1.5" stroke="#333333" stroke-width="0.8" fill="none"/>
<g font-size="10">
<text x="35.5" y="364.2" text-anchor="middle">0.0</text>
<text x="74.6" y="364.2" text-anchor="middle">0.1</text>
<text x="113.8" y="364.2" text-anchor="middle">0.2</text>
<text x="152.9" y="364.2" text-anchor="middle">0.3</text>
<text x="192.0" y="364.2" text-anchor="middle">0.4</text>
<text x="231.2" y="364.2" text-anchor="middle">0.5</text>
<text x="270.3" y="364.2" text-anchor="middle">0.6</text>
<text x="309.4" y="364.2" text-anchor="middle">0.7</text>
<text x="29.8" y="354.6" text-anchor="end">1</text>
<text x="29.8" y="214.0" text-anchor="end">5</text>
<text x="29.8" y="153.4" text-anchor="end">10</text>
<text x="29.8" y="118.0" text-anchor="end">15</text>
</g>
<text x="176.6" y="379.6" font-size="14" text-anchor="middle">CMI</text>
<text transform="translate(11.3 214.2) rotate(-90)" font-size="14" text-anchor="middle">Θ<tspan font-size="9.3" dy="2.1">Σ</tspan></text>
<text x="16.2" y="63.7" font-size="21" font-family="'Liberation Sans', Arial, sans-serif" fill="#000" style="stroke-width:0.05px"><tspan dx="0.5">(</tspan><tspan dx="-0.9">a</tspan><tspan dx="-1.1">)</tspan></text>
<defs><linearGradient id="cb" x1="0" y1="1" x2="0" y2="0"><stop offset="0" stop-color="#363433"/><stop offset="0.2" stop-color="#655347"/><stop offset="0.4" stop-color="#98735c"/><stop offset="0.6" stop-color="#c99270"/><stop offset="0.8" stop-color="#f0b080"/><stop offset="0.9" stop-color="#f2c08c"/><stop offset="1" stop-color="#f4d398"/></linearGradient></defs>
<rect x="336.1" y="77.4" width="13.8" height="273.3" fill="url(#cb)" stroke="#3a3a3a" stroke-width="0.7"/>
<g font-size="10.15">
<text x="354.9" y="103.7">0.700</text>
<text x="354.9" y="135.4">0.675</text>
<text x="354.9" y="167.1">0.650</text>
<text x="354.9" y="198.8">0.625</text>
<text x="354.9" y="230.5">0.600</text>
<text x="354.9" y="262.2">0.575</text>
<text x="354.9" y="293.9">0.550</text>
<text x="354.9" y="325.6">0.525</text>
</g>
<path d="M349.9 100.0 h2.4 M349.9 131.7 h2.4 M349.9 163.4 h2.4 M349.9 195.1 h2.4 M349.9 226.8 h2.4 M349.9 258.5 h2.4 M349.9 290.2 h2.4 M349.9 321.9 h2.4" stroke="#333333" stroke-width="0.8" fill="none"/>
<text x="343.1" y="364.4" font-size="13.6" text-anchor="middle">S</text>
<path d="M443.20 195.3 V31.9 h3.94 V195.3Z M447.09 195.3 V31.4 h3.94 V195.3Z M450.99 195.3 V33.2 h3.94 V195.3Z M454.88 195.3 V38.1 h3.94 V195.3Z M458.77 195.3 V43.3 h3.94 V195.3Z M462.66 195.3 V47.7 h3.94 V195.3Z M466.56 195.3 V53.7 h3.94 V195.3Z M470.45 195.3 V61.8 h3.94 V195.3Z M474.34 195.3 V69.1 h3.94 V195.3Z M478.24 195.3 V75.6 h3.94 V195.3Z M482.13 195.3 V88.1 h3.94 V195.3Z M486.02 195.3 V97.2 h3.94 V195.3Z M489.92 195.3 V106.1 h3.94 V195.3Z M493.81 195.3 V114.1 h3.94 V195.3Z M497.70 195.3 V118.2 h3.94 V195.3Z M501.59 195.3 V127.3 h3.94 V195.3Z M505.49 195.3 V139.9 h3.94 V195.3Z M509.38 195.3 V149.9 h3.94 V195.3Z M513.27 195.3 V173.9 h3.94 V195.3Z M517.17 195.3 V166.2 h3.94 V195.3Z M521.06 195.3 V166.2 h3.94 V195.3Z M524.95 195.3 V173.9 h3.94 V195.3Z M532.74 195.3 V166.2 h3.94 V195.3Z M548.31 195.3 V187.2 h3.94 V195.3Z M552.20 195.3 V187.2 h3.94 V195.3Z M559.99 195.3 V187.2 h3.94 V195.3Z M563.88 195.3 V187.2 h3.94 V195.3Z M567.78 195.3 V173.9 h3.94 V195.3Z M571.67 195.3 V187.2 h3.94 V195.3Z M575.56 195.3 V173.9 h3.94 V195.3Z M579.45 195.3 V173.9 h3.94 V195.3Z M587.24 195.3 V187.2 h3.94 V195.3Z M602.81 195.3 V187.2 h3.94 V195.3Z" fill="#bcd9e8" shape-rendering="crispEdges"/>
<path d="M575.56 195.3 V187.2 h3.94 V195.3Z M618.38 195.3 V187.2 h3.94 V195.3Z M630.06 195.3 V187.2 h3.94 V195.3Z M641.74 195.3 V160.6 h3.94 V195.3Z M653.42 195.3 V173.9 h3.94 V195.3Z M657.31 195.3 V187.2 h3.94 V195.3Z M661.21 195.3 V187.2 h3.94 V195.3Z M665.10 195.3 V173.9 h3.94 V195.3Z M668.99 195.3 V160.6 h3.94 V195.3Z" fill="#4383ba" shape-rendering="crispEdges"/>
<rect x="432.0" y="23.3" width="252.3" height="172.0" fill="none" stroke="#333333" stroke-width="0.9"/>
<g font-size="9.7">
<text x="443.2" y="207.9" text-anchor="middle">0</text>
<text x="500.6" y="207.9" text-anchor="middle">5</text>
<text x="558.0" y="207.9" text-anchor="middle">10</text>
<text x="615.5" y="207.9" text-anchor="middle">15</text>
<text x="672.9" y="207.9" text-anchor="middle">20</text>
<text x="427.6" y="191.6" text-anchor="end">10<tspan font-size="6.8" dy="-4.2">0</tspan></text>
<text x="427.6" y="147.5" text-anchor="end">10<tspan font-size="6.8" dy="-4.2">1</tspan></text>
<text x="427.6" y="103.4" text-anchor="end">10<tspan font-size="6.8" dy="-4.2">2</tspan></text>
<text x="427.6" y="59.3" text-anchor="end">10<tspan font-size="6.8" dy="-4.2">3</tspan></text>
</g>
<path d="M443.2 195.3 v2.4 M500.6 195.3 v2.4 M558.0 195.3 v2.4 M615.5 195.3 v2.4 M672.9 195.3 v2.4 M432.0 187.2 h-2.4 M432.0 173.9 h-1.4 M432.0 166.2 h-1.4 M432.0 160.6 h-1.4 M432.0 156.4 h-1.4 M432.0 152.9 h-1.4 M432.0 149.9 h-1.4 M432.0 147.4 h-1.4 M432.0 145.1 h-1.4 M432.0 143.1 h-2.4 M432.0 129.8 h-1.4 M432.0 122.1 h-1.4 M432.0 116.5 h-1.4 M432.0 112.3 h-1.4 M432.0 108.8 h-1.4 M432.0 105.8 h-1.4 M432.0 103.3 h-1.4 M432.0 101.0 h-1.4 M432.0 99.0 h-2.4 M432.0 85.7 h-1.4 M432.0 78.0 h-1.4 M432.0 72.4 h-1.4 M432.0 68.2 h-1.4 M432.0 64.7 h-1.4 M432.0 61.7 h-1.4 M432.0 59.2 h-1.4 M432.0 56.9 h-1.4 M432.0 54.9 h-2.4 M432.0 41.6 h-1.4 M432.0 33.9 h-1.4 M432.0 28.3 h-1.4 M432.0 24.1 h-1.4 M432.0 194.0 h-1.4 M432.0 191.5 h-1.4 M432.0 189.2 h-1.4" stroke="#333333" stroke-width="0.8" fill="none"/>
<text x="558.2" y="20.0" font-size="9.97" text-anchor="middle">Network with triadic interactions</text>
<text x="558.0" y="222.3" font-size="13" text-anchor="middle">Θ<tspan font-size="9.2" dy="2.2">Σ</tspan></text>
<text transform="translate(405.8 110.3) rotate(-90)" font-size="13.2" text-anchor="middle">Frequency</text>
<text x="389.2" y="16.2" font-size="21" font-family="'Liberation Sans', Arial, sans-serif" fill="#000" style="stroke-width:0.05px"><tspan dx="0.5">(</tspan><tspan dx="-0.9">b</tspan><tspan dx="-1.1">)</tspan></text>
<rect x="557.7" y="27.4" width="123.1" height="13.4" rx="1.5" fill="#fff" fill-opacity="0.8" stroke="#d0d0d0" stroke-width="0.7"/>
<rect x="561.2" y="31.0" width="15.8" height="5.5" fill="#4383ba"/>
<text x="583.3" y="37.0" font-size="7.94" style="stroke-width:0.08px">True triadic interactions</text>
<path d="M443.20 426.3 V262.5 h3.94 V426.3Z M447.09 426.3 V262.1 h3.94 V426.3Z M450.99 426.3 V263.2 h3.94 V426.3Z M454.88 426.3 V266.5 h3.94 V426.3Z M458.77 426.3 V271.3 h3.94 V426.3Z M462.66 426.3 V274.6 h3.94 V426.3Z M466.56 426.3 V279.6 h3.94 V426.3Z M470.45 426.3 V287.1 h3.94 V426.3Z M474.34 426.3 V294.3 h3.94 V426.3Z M478.24 426.3 V299.8 h3.94 V426.3Z M482.13 426.3 V309.3 h3.94 V426.3Z M486.02 426.3 V319.1 h3.94 V426.3Z M489.92 426.3 V326.1 h3.94 V426.3Z M493.81 426.3 V334.9 h3.94 V426.3Z M497.70 426.3 V349.4 h3.94 V426.3Z M501.59 426.3 V353.5 h3.94 V426.3Z M505.49 426.3 V369.3 h3.94 V426.3Z M509.38 426.3 V383.9 h3.94 V426.3Z M513.27 426.3 V387.5 h3.94 V426.3Z M517.17 426.3 V375.9 h3.94 V426.3Z M521.06 426.3 V405.2 h3.94 V426.3Z M524.95 426.3 V419.1 h3.94 V426.3Z" fill="#c68642" shape-rendering="crispEdges"/>
<rect x="432.0" y="254.6" width="252.3" height="171.7" fill="none" stroke="#333333" stroke-width="0.9"/>
<g font-size="9.7">
<text x="443.2" y="438.9" text-anchor="middle">0</text>
<text x="500.6" y="438.9" text-anchor="middle">5</text>
<text x="558.0" y="438.9" text-anchor="middle">10</text>
<text x="615.5" y="438.9" text-anchor="middle">15</text>
<text x="672.9" y="438.9" text-anchor="middle">20</text>
<text x="427.6" y="422.9" text-anchor="end">10<tspan font-size="6.8" dy="-4.2">0</tspan></text>
<text x="427.6" y="378.2" text-anchor="end">10<tspan font-size="6.8" dy="-4.2">1</tspan></text>
<text x="427.6" y="333.5" text-anchor="end">10<tspan font-size="6.8" dy="-4.2">2</tspan></text>
<text x="427.6" y="288.8" text-anchor="end">10<tspan font-size="6.8" dy="-4.2">3</tspan></text>
</g>
<path d="M443.2 426.3 v2.4 M500.6 426.3 v2.4 M558.0 426.3 v2.4 M615.5 426.3 v2.4 M672.9 426.3 v2.4 M432.0 418.5 h-2.4 M432.0 405.0 h-1.4 M432.0 397.2 h-1.4 M432.0 391.6 h-1.4 M432.0 387.3 h-1.4 M432.0 383.7 h-1.4 M432.0 380.7 h-1.4 M432.0 378.1 h-1.4 M432.0 375.8 h-1.4 M432.0 373.8 h-2.4 M432.0 360.3 h-1.4 M432.0 352.5 h-1.4 M432.0 346.9 h-1.4 M432.0 342.6 h-1.4 M432.0 339.0 h-1.4 M432.0 336.0 h-1.4 M432.0 333.4 h-1.4 M432.0 331.1 h-1.4 M432.0 329.1 h-2.4 M432.0 315.6 h-1.4 M432.0 307.8 h-1.4 M432.0 302.2 h-1.4 M432.0 297.9 h-1.4 M432.0 294.3 h-1.4 M432.0 291.3 h-1.4 M432.0 288.7 h-1.4 M432.0 286.4 h-1.4 M432.0 284.4 h-2.4 M432.0 270.9 h-1.4 M432.0 263.1 h-1.4 M432.0 257.5 h-1.4 M432.0 425.4 h-1.4 M432.0 422.8 h-1.4 M432.0 420.5 h-1.4" stroke="#333333" stroke-width="0.8" fill="none"/>
<text x="558.2" y="250.7" font-size="9.97" text-anchor="middle">Network without triadic interactions</text>
<text x="558.0" y="453.3" font-size="13" text-anchor="middle">Θ<tspan font-size="9.2" dy="2.2">Σ</tspan></text>
<text transform="translate(405.8 341.4) rotate(-90)" font-size="13.2" text-anchor="middle">Frequency</text>
<text x="389.2" y="243.4" font-size="21" font-family="'Liberation Sans', Arial, sans-serif" fill="#000" style="stroke-width:0.05px"><tspan dx="0.5">(</tspan><tspan dx="-0.9">c</tspan><tspan dx="-1.1">)</tspan></text>
</svg>
</body></html>
